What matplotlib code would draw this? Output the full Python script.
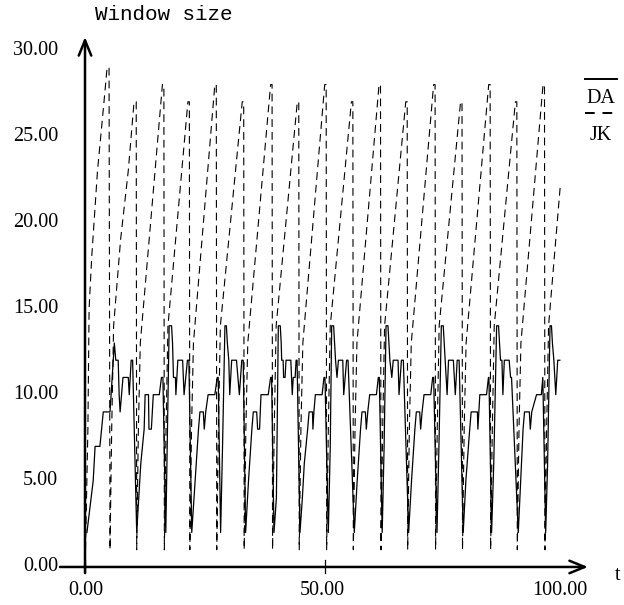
import matplotlib
matplotlib.use("Agg")
import matplotlib.pyplot as plt
from matplotlib.lines import Line2D

# ---------------- data ----------------
# JK (dashed): vertices of the window-size trace (time, window)
jk_t = [0.1, 0.6, 0.85, 1.4, 2.6, 3.95, 4.6, 5.0, 5.2,
        5.55, 5.95, 7.4, 9.0, 10.2, 10.65, 10.75,
        11.1, 11.5, 16.1, 16.4, 16.5,
        16.85, 17.25, 21.4, 21.7, 21.8,
        22.15, 22.55, 27.0, 27.3, 27.4,
        27.75, 28.15, 32.7, 33.0, 33.1,
        33.45, 33.85, 38.6, 38.9, 39.0,
        39.35, 39.75, 44.15, 44.45, 44.55,
        44.9, 45.3, 49.85, 50.15, 50.25,
        50.6, 51.0, 55.4, 55.7, 55.8,
        56.15, 56.55, 61.15, 61.45, 61.55,
        61.9, 62.3, 66.7, 67.0, 67.1,
        67.45, 67.85, 72.5, 72.8, 72.9,
        73.25, 73.65, 78.1, 78.4, 78.5,
        78.85, 79.25, 83.95, 84.25, 84.35,
        84.7, 85.1, 89.5, 89.8, 89.9,
        90.25, 90.65, 95.25, 95.55, 95.65,
        96.0, 96.4, 98.8]
jk_w = [1, 8, 15, 18, 23, 27, 29, 29, 1,
        8, 14, 19, 23, 27, 27, 1,
        8, 13, 28, 28, 1,
        8, 14, 27, 27, 1,
        8, 13, 28, 28, 1,
        8, 14, 27, 27, 1,
        8, 13, 28, 28, 1,
        8, 14, 27, 27, 1,
        8, 13, 28, 28, 1,
        8, 14, 27, 27, 1,
        8, 13, 28, 28, 1,
        8, 14, 27, 27, 1,
        8, 13, 28, 28, 1,
        8, 14, 27, 27, 1,
        8, 13, 28, 28, 1,
        8, 14, 27, 27, 1,
        8, 13, 28, 28, 1,
        8, 14, 22]

# DA (solid): vertices of the window-size trace (time, window)
da_t = [0.4, 1.7, 2.1, 3.1, 3.8, 5.2, 6.1, 6.4, 6.9, 7.1, 7.3, 7.6, 7.9, 9.0, 9.2, 9.6, 9.9,
        10.75, 11.6, 12.3, 12.5, 13.2, 13.3, 13.8, 14.2, 15.45, 15.9, 16.2,
        16.8, 17.1, 17.5, 18.0, 18.2, 18.4, 18.8, 18.9, 19.3, 20.3, 20.6, 21.3, 21.6,
        22.2, 22.9, 23.6, 23.9, 24.6, 24.8, 25.1, 25.6, 27.0, 27.5, 27.7,
        28.2, 28.6, 29.1, 29.4, 29.6, 29.9, 30.1, 30.5, 31.5, 31.8, 32.1, 32.6, 32.9,
        33.4, 34.0, 34.7, 35.0, 35.7, 35.9, 36.3, 36.6, 38.1, 38.6, 38.8,
        39.3, 39.8, 40.0, 40.2, 40.6, 40.8, 40.9, 41.2, 41.3, 41.6, 41.8, 42.8, 43.1, 43.3, 43.7, 43.9, 44.1,
        44.7, 45.2, 45.6, 46.3, 46.6, 47.3, 47.4, 47.6, 47.9, 49.3, 49.7, 49.9,
        50.6, 51.0, 51.3, 51.7, 51.9, 52.1, 52.4, 52.7, 53.6, 53.8, 54.4, 54.7,
        56.0, 56.6, 57.3, 57.6, 58.3, 58.5, 58.8, 59.2, 60.6, 61.0, 61.2,
        61.8, 62.2, 62.6, 63.0, 63.2, 63.4, 63.8, 64.1, 65.1, 65.3, 65.8, 66.2,
        67.3, 67.9, 68.6, 68.9, 69.6, 69.8, 70.1, 70.5, 71.9, 72.3, 72.5,
        73.2, 73.6, 74.1, 74.5, 74.7, 74.9, 75.1, 75.3, 75.6, 76.6, 76.8, 77.0, 77.4, 77.8,
        78.65, 79.2, 80.0, 80.3, 81.6, 81.7, 82.1, 83.5, 83.9, 84.0,
        84.55, 85.0, 85.6, 86.0, 86.2, 86.4, 86.7, 86.9, 87.2, 88.2, 88.5, 88.7,
        90.1, 90.6, 91.1, 91.4, 92.4, 92.6, 92.9, 93.9, 94.9, 95.2,
        95.8, 96.2, 96.7, 97.0, 97.2, 97.5, 97.9, 98.3, 98.75]
da_w = [2, 5, 7, 7, 9, 9, 13, 12, 12, 10, 9, 10, 11, 11, 10, 12, 12,
        2, 6, 8, 10, 10, 8, 8, 10, 10, 11, 11,
        2, 7, 14, 14, 13, 11, 11, 10, 12, 12, 10, 12, 12,
        2, 5, 8, 9, 9, 8, 9, 10, 10, 11, 11,
        2, 7, 14, 14, 13, 12, 10, 12, 12, 11, 10, 12, 12,
        2, 5, 8, 9, 9, 8, 8, 10, 10, 11, 11,
        2, 4, 9, 14, 14, 13, 12, 12, 11, 11, 12, 12, 10, 11, 11, 12, 12,
        2, 4, 6, 8, 9, 9, 8, 9, 10, 10, 11, 11,
        2, 7, 14, 14, 13, 12, 11, 12, 12, 10, 12, 12,
        2, 5, 8, 9, 9, 8, 9, 10, 10, 11, 11,
        2, 7, 14, 14, 13, 12, 11, 12, 12, 10, 12, 12,
        2, 5, 8, 9, 9, 8, 9, 10, 10, 11, 11,
        2, 7, 14, 14, 13, 12, 11, 10, 12, 12, 11, 10, 12, 12,
        2, 5, 8, 9, 9, 8, 10, 10, 11, 11,
        2, 6, 14, 14, 13, 12, 12, 10, 12, 12, 11, 11,
        2, 5, 8, 9, 9, 8, 9, 10, 10, 11,
        2, 6, 14, 14, 13, 12, 10, 12, 12]

y_ticks = [0, 5, 10, 15, 20, 25, 30]
y_tick_labels = ["0.00", "5.00", "10.00", "15.00", "20.00", "25.00", "30.00"]
x_ticks = [0, 50, 100]
x_tick_labels = ["0.00", "50.00", "100.00"]
series_names = ["DA", "JK"]
y_title = "Window size"
x_title = "t"

# ---------------- figure ----------------
W, H = 624, 605
fig = plt.figure(figsize=(W / 100, H / 100), dpi=100)
# axes box in pixels: x 60..588, y 37 (top) .. 573 (bottom)
ax = fig.add_axes([60 / W, (H - 573) / H, (588 - 60) / W, (573 - 37) / H])
ax.set_xlim(-5.2, 104.6)
ax.set_ylim(-0.35, 30.76)
ax.axis("off")

serif = ["Liberation Serif", "DejaVu Serif"]
mono = ["Liberation Mono", "DejaVu Sans Mono"]

ax.plot(jk_t, jk_w, color="black", lw=0.8, dashes=(7, 4.5), clip_on=False)
ax.plot(da_t, da_w, color="black", lw=0.9, clip_on=False)

# axes with arrows
arrow_kw = dict(arrowstyle="->,head_length=1.1,head_width=0.45", lw=1.8, color="black",
                shrinkA=0, shrinkB=0)
ax.annotate("", xy=(104.6, 0), xytext=(-5.2, 0), arrowprops=arrow_kw, annotation_clip=False)
ax.annotate("", xy=(0, 30.76), xytext=(0, -0.35), arrowprops=arrow_kw, annotation_clip=False)

# x tick marks
for t in x_ticks[:-1]:
    ax.plot([t, t], [-0.35, 0.4], color="black", lw=0.9, clip_on=False)

for v, lab in zip(y_ticks, y_tick_labels):
    ax.text(-5.6, v, lab, ha="right", va="center", fontsize=14.5, family=serif)
x_label_shift = [0.1, -0.7, -1.2]
for t, lab, s in zip(x_ticks, x_tick_labels, x_label_shift):
    ax.text(t + s, -1.35, lab, ha="center", va="center", fontsize=14.5, family=serif)


def px(x, y):
    return x / W, 1 - y / H


fig.text(*px(95, 15), y_title, ha="left", va="center", fontsize=15, family=mono)
fig.text(*px(618, 575), x_title, ha="center", va="center", fontsize=14.5, family=serif)

# legend
fig.add_artist(Line2D([585 / W, 617 / W], [1 - 79 / H, 1 - 79 / H], color="black", lw=1.4))
fig.text(*px(601, 99), series_names[0], ha="center", va="center", fontsize=14.5, family=serif)
fig.add_artist(Line2D([585 / W, 615 / W], [1 - 113 / H, 1 - 113 / H], color="black", lw=1.4,
                      dashes=(5, 4)))
fig.text(*px(601, 136), series_names[1], ha="center", va="center", fontsize=14.5, family=serif)

fig.savefig("out.png", dpi=100)
